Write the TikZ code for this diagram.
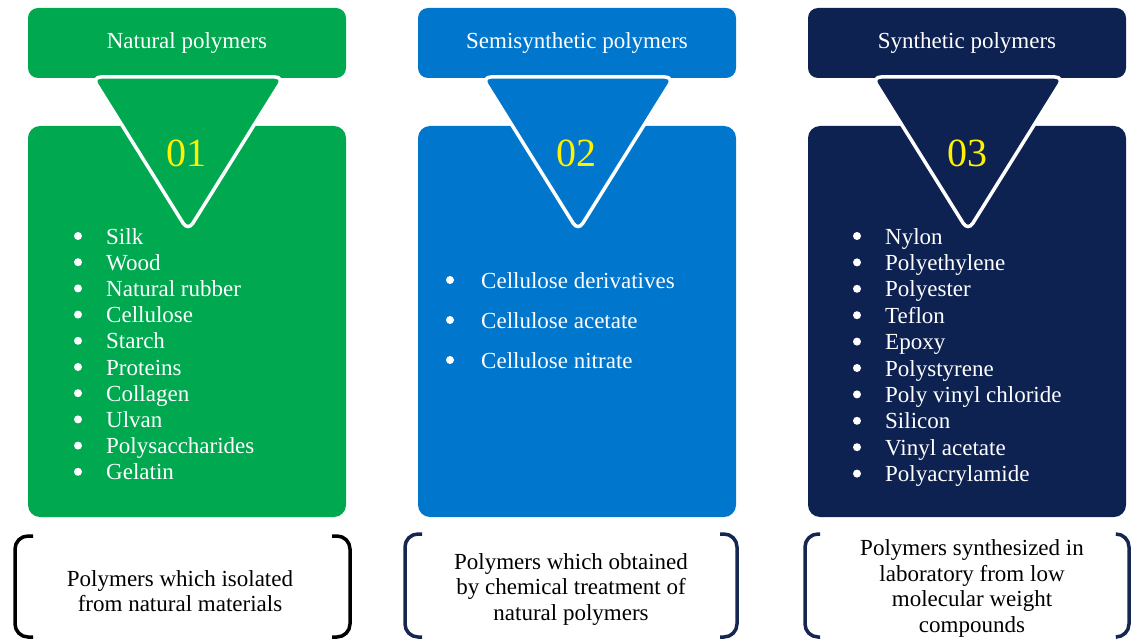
\documentclass[tikz,border=0pt]{standalone}
\usepackage{fontspec}
\setmainfont{Liberation Serif}
\definecolor{cgreen}{RGB}{0,168,80}
\definecolor{cblue}{RGB}{0,118,204}
\definecolor{cnavy}{RGB}{14,34,82}
\definecolor{bnavy}{RGB}{22,38,82}
\tikzset{
  hdrbox/.style={rounded corners=10pt, minimum width=318pt, minimum height=70pt, inner sep=0pt, text=white, font=\fontsize{23}{26}\selectfont},
  bodybox/.style={rounded corners=12pt, minimum width=318pt, minimum height=391pt, inner sep=0pt},
  tri/.style={draw=white, line width=3.5pt, rounded corners=9pt},
  num/.style={text=yellow, font=\fontsize{40}{44}\selectfont, anchor=base, inner sep=0pt},
  item/.style={text=white, font=\fontsize{23}{26}\selectfont, anchor=base west, inner sep=0pt},
  desc/.style={align=center, font=\fontsize{23}{25.5}\selectfont, inner sep=0pt},
  brk/.style={line width=3.5pt, rounded corners=13pt}
}
\begin{document}
\begin{tikzpicture}[x=1pt,y=-1pt]
\useasboundingbox (0,0) rectangle (1132,639);
% ---- column 1
\node[hdrbox, fill=cgreen] (h1) at (187,43) {Natural polymers};
\node[bodybox, fill=cgreen] (b1) at (187,321.5) {};
\filldraw[tri, fill=cgreen] (92,77) -- (284,77) -- (188,231) -- cycle;
\node[num] (n1) at (186,167) {01};
\foreach \t [count=\i] in {Silk, Wood, Natural rubber, Cellulose, Starch, Proteins, Collagen, Ulvan, Polysaccharides, Gelatin}{
  \node[item] (a\i) at (106,{244+26.2*(\i-1)}) {\t};
  \fill[white] (78,{236+26.2*(\i-1)}) circle (4);
}
\draw[brk, black] (33,536) -- (15,536) -- (15,637) -- (33,637);
\draw[brk, black] (332,536) -- (350,536) -- (350,637) -- (332,637);
\node[desc] (d1) at (180,591) {Polymers which isolated\\from natural materials};
% ---- column 2
\node[hdrbox, fill=cblue] (h2) at (577,43) {Semisynthetic polymers};
\node[bodybox, fill=cblue] (b2) at (577,321.5) {};
\filldraw[tri, fill=cblue] (482,77) -- (674,77) -- (578,231) -- cycle;
\node[num] (n2) at (576,167) {02};
\foreach \t [count=\i] in {Cellulose derivatives, Cellulose acetate, Cellulose nitrate}{
  \node[item] (s\i) at (481,{288+40*(\i-1)}) {\t};
  \fill[white] (450,{280+40*(\i-1)}) circle (4);
}
\draw[brk, bnavy] (422,534) -- (405,534) -- (405,637) -- (422,637);
\draw[brk, bnavy] (720,534) -- (737,534) -- (737,637) -- (720,637);
\node[desc] (d2) at (571,589) {Polymers which obtained\\by chemical treatment of\\natural polymers};
% ---- column 3
\node[hdrbox, fill=cnavy] (h3) at (967,43) {Synthetic polymers};
\node[bodybox, fill=cnavy] (b3) at (967,321.5) {};
\filldraw[tri, fill=cnavy] (872,77) -- (1064,77) -- (968,231) -- cycle;
\node[num] (n3) at (967,167) {03};
\foreach \t [count=\i] in {Nylon, Polyethylene, Polyester, Teflon, Epoxy, Polystyrene, Poly vinyl chloride, Silicon, Vinyl acetate, Polyacrylamide}{
  \node[item] (c\i) at (885,{244+26.4*(\i-1)}) {\t};
  \fill[white] (857,{236+26.4*(\i-1)}) circle (4);
}
\draw[brk, bnavy] (820,534) -- (805,534) -- (805,637) -- (820,637);
\draw[brk, bnavy] (1117,534) -- (1129,534) -- (1129,637) -- (1117,637);
\node[desc] (d3) at (972,588.5) {Polymers synthesized in\\laboratory from low\\molecular weight\\compounds};
\end{tikzpicture}
\end{document}
